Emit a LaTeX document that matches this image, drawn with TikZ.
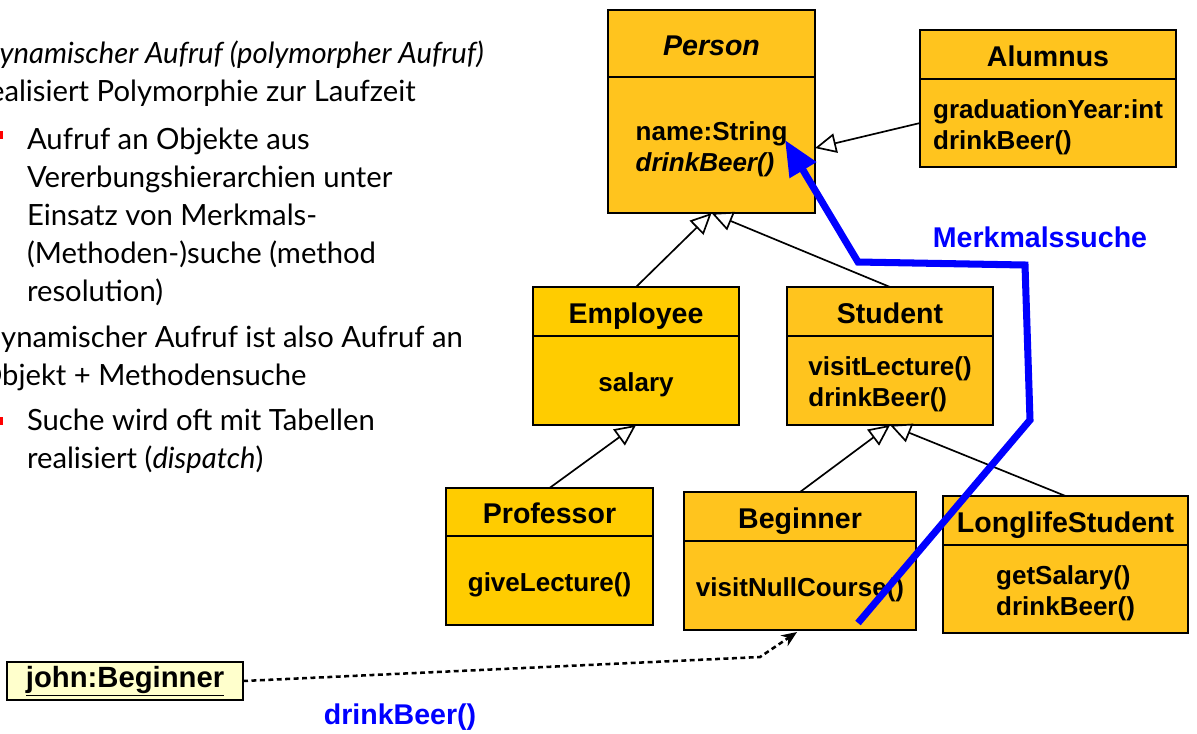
\documentclass[tikz,border=0pt]{standalone}
\usepackage{fontspec}
\setmainfont{Liberation Sans}
\newfontfamily\latofont{Lato}
\usetikzlibrary{arrows.meta,calc}
\definecolor{classfill}{HTML}{FFC41E}
\definecolor{classfillb}{HTML}{FFCC00}
\definecolor{objfill}{HTML}{FFFFCC}
\definecolor{bulletred}{HTML}{FF0000}
\newcommand{\bodystrut}{\rule{0pt}{19pt}}
\begin{document}
\begin{tikzpicture}[x=0.025cm,y=-0.025cm,inner sep=0pt,outer sep=0pt,line width=1.2pt,
classhead/.style={draw,rectangle,fill=classfill,anchor=north west,text height=17pt,text depth=0.4pt,
  font=\fontsize{20.3}{24}\selectfont\bfseries},
classbody/.style={draw,rectangle,fill=classfill,anchor=north,align=left,
  font=\fontsize{18.5}{22}\selectfont\bfseries},
inherit/.style={-{Triangle[open,length=15pt,width=14pt,fill=white]}},
search/.style={draw=blue,line width=5pt,line join=miter,-{Triangle[length=25pt,width=21pt]}},
call/.style={line width=1.8pt,dash pattern=on 3.5pt off 2.5pt,-{Stealth[length=11pt,width=9pt]}},
bluelabel/.style={text=blue,font=\fontsize{20.3}{24}\selectfont\bfseries},
slidetext/.style={anchor=base west,align=left,font=\latofont\fontsize{20.8}{27}\selectfont}]
\useasboundingbox (0,0) rectangle (1197,733);
% slide text on the left (anchored at the last line)
\node[slidetext] (txt1) at (-21,101) {\itshape Dynamischer Aufruf (polymorpher Aufruf)\\realisiert Polymorphie zur Laufzeit};
\node[slidetext] (txt1a) at (27,301) {Aufruf an Objekte aus\\Vererbungshierarchien unter\\Einsatz von Merkmals-\\(Methoden-)suche (method\\resolution)};
\node[slidetext] (txt2) at (-21,385) {Dynamischer Aufruf ist also Aufruf an\\Objekt + Methodensuche};
\node[slidetext] (txt2a) at (27,468) {Suche wird oft mit Tabellen\\realisiert (\textit{dispatch})};
\fill[bulletred] (-5,131) rectangle (3,139);
\fill[bulletred] (-5,417) rectangle (3,425);
% classes
\draw (608,10) node[classhead,minimum width=5.175cm,minimum height=1.675cm] (persH) {\itshape Person};
\node[classbody,minimum width=5.175cm,minimum height=3.4cm] (persB) at (persH.south) {\bodystrut name:String\\\itshape drinkBeer()};
\draw (920,30) node[classhead,minimum width=6.4cm,minimum height=1.225cm] (alumH) {Alumnus};
\node[classbody,minimum width=6.4cm,minimum height=2.2cm] (alumB) at (alumH.south) {\bodystrut graduationYear:int\\drinkBeer()};
\draw (533,287) node[classhead,fill=classfillb,minimum width=5.15cm,minimum height=1.225cm] (empH) {Employee};
\node[classbody,fill=classfillb,minimum width=5.15cm,minimum height=2.225cm] (empB) at (empH.south) {\bodystrut salary};
\draw (787,287) node[classhead,minimum width=5.15cm,minimum height=1.225cm] (stuH) {Student};
\node[classbody,minimum width=5.15cm,minimum height=2.225cm] (stuB) at (stuH.south) {\bodystrut visitLecture()\\drinkBeer()};
\draw (446,488) node[classhead,fill=classfillb,minimum width=5.175cm,minimum height=1.2cm] (profH) {Professor};
\node[classbody,fill=classfillb,minimum width=5.175cm,minimum height=2.225cm] (profB) at (profH.south) {\bodystrut giveLecture()};
\draw (684,492) node[classhead,minimum width=5.8cm,minimum height=1.225cm] (begH) {Beginner};
\node[classbody,minimum width=5.8cm,minimum height=2.225cm] (begB) at (begH.south) {\bodystrut visitNullCourse()};
\draw (943,496) node[classhead,minimum width=6.125cm,minimum height=1.225cm] (longH) {LonglifeStudent};
\node[classbody,minimum width=6.125cm,minimum height=2.2cm] (longB) at (longH.south) {\bodystrut getSalary()\\drinkBeer()};
% object
\draw (7,662) node[draw,rectangle,fill=objfill,anchor=north west,minimum width=5.9cm,minimum height=0.95cm,
  font=\fontsize{20.8}{24}\selectfont\bfseries] (john) {\underline{john:Beginner}};
% inheritance
\draw[inherit] (alumB.west) -- ($(persB.east)+(0,3)$);
\draw[inherit] (empH.north) -- (persB.south);
\draw[inherit] (stuH.north) -- (persB.south);
\draw[inherit] (profH.north) -- (empB.south);
\draw[inherit] (begH.north) -- (stuB.south);
\draw[inherit] (longH.north) -- (stuB.south);
% method lookup
\coordinate (s0) at (858,623);
\coordinate (s1) at (1030,420);
\coordinate (s2) at (1025,265);
\coordinate (s3) at (858,262);
\coordinate (s4) at (785,140);
\draw[search] (s0) -- (s1) -- (s2) -- (s3) -- (s4);
\node[bluelabel] (lookup) at (1040,237) {Merkmalssuche};
% message
\coordinate (c1) at (760,657);
\draw[call] (john.east) -- (c1) -- ($(begB.south)+(-3,2)$);
\node[bluelabel] (msg) at (400,717) {drinkBeer()};
\end{tikzpicture}
\end{document}
